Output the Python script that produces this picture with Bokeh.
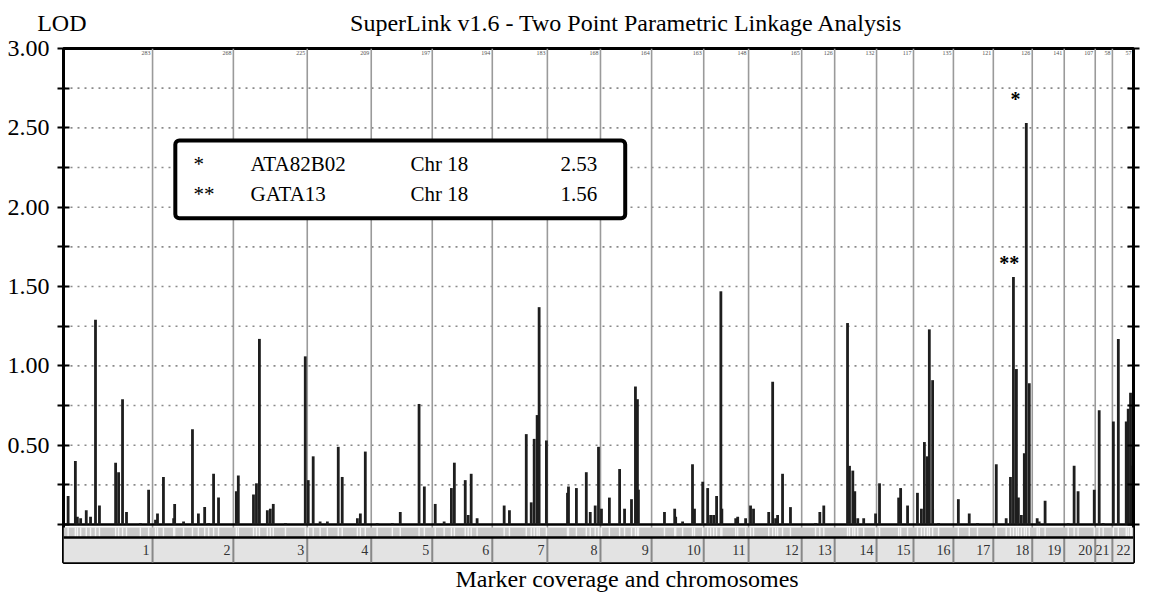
from bokeh.plotting import figure
from bokeh.layouts import column
from bokeh.models import (Range1d, FixedTicker, PrintfTickFormatter, LinearAxis,
                          Label, BoxAnnotation, Title)
from bokeh.core.properties import value
from bokeh.embed import file_html
from bokeh.resources import INLINE

SERIF = "Liberation Serif"

# ---------------- data ----------------
chrom_names = [str(i) for i in range(1, 23)]
chrom_len = [270, 245, 224, 194, 185, 182, 167, 161, 155, 158, 136,
             161, 100, 127, 112, 121, 121, 118, 97, 94, 52, 64]
top_labels = ["283", "268", "225", "209", "197", "194", "183", "168", "164", "163", "148",
              "165", "126", "132", "117", "135", "121", "126", "141", "107", "58", "57"]

chr1_pos = [14, 36, 42, 52, 69, 82, 97, 109, 158, 167, 179, 191, 233, 258]
chr1_lod = [0.18, 0.40, 0.05, 0.04, 0.09, 0.05, 1.29, 0.12, 0.39, 0.33, 0.79, 0.08, 0.01, 0.22]
chr2_pos = [9, 15, 33, 64, 67, 94, 121, 139, 158, 170, 185, 200]
chr2_lod = [0.03, 0.07, 0.30, 0.04, 0.13, 0.02, 0.60, 0.07, 0.11, 0.01, 0.32, 0.17]
chr3_pos = [9, 15, 61, 70, 79, 103, 112, 121, 158, 218]
chr3_lod = [0.21, 0.31, 0.19, 0.26, 1.17, 0.09, 0.10, 0.13, 0.01, 1.06]
chr4_pos = [3, 18, 39, 61, 94, 106, 152, 161, 176]
chr4_lod = [0.28, 0.43, 0.02, 0.02, 0.49, 0.30, 0.04, 0.07, 0.46]
chr5_pos = [18, 64, 88, 145, 161]
chr5_lod = [0.01, 0.01, 0.08, 0.76, 0.24]
chr6_pos = [9, 36, 58, 67, 100, 109, 118, 136]
chr6_lod = [0.13, 0.02, 0.23, 0.39, 0.28, 0.06, 0.32, 0.04]
chr7_pos = [36, 52, 103, 118, 127, 136, 142, 164]
chr7_lod = [0.12, 0.09, 0.57, 0.14, 0.54, 0.69, 1.37, 0.53]
chr8_pos = [61, 64, 88, 118, 130, 145, 155]
chr8_lod = [0.20, 0.24, 0.23, 0.33, 0.08, 0.12, 0.49]
chr9_pos = [3, 27, 58, 73, 94, 106, 112, 115]
chr9_lod = [0.10, 0.17, 0.35, 0.10, 0.16, 0.87, 0.79, 0.22]
chr10_pos = [39, 70, 73, 94, 124, 130, 155]
chr10_lod = [0.08, 0.10, 0.05, 0.02, 0.38, 0.10, 0.27]
chr11_pos = [12, 21, 30, 39, 52, 55, 97, 103, 127]
chr11_lod = [0.23, 0.06, 0.06, 0.18, 1.47, 0.10, 0.04, 0.05, 0.04]
chr12_pos = [6, 15, 61, 73, 82, 88, 103, 127]
chr12_lod = [0.12, 0.10, 0.08, 0.90, 0.04, 0.06, 0.32, 0.11]
chr13_pos = [42, 55, 67]
chr13_lod = [0.01, 0.08, 0.12]
chr14_pos = [39, 45, 55, 61, 70, 88, 124]
chr14_lod = [1.27, 0.37, 0.34, 0.21, 0.04, 0.04, 0.07]
chr15_pos = [9, 67, 73, 94]
chr15_lod = [0.26, 0.17, 0.23, 0.12]
chr16_pos = [12, 24, 33, 42, 48, 58, 76]
chr16_lod = [0.20, 0.10, 0.52, 0.43, 1.23, 0.91, 0.01]
chr17_pos = [15, 48, 73]
chr17_lod = [0.16, 0.07, 0.01]
chr18_pos = [9, 39, 52, 61, 70, 76, 85, 94, 100, 109]
chr18_lod = [0.38, 0.04, 0.30, 1.56, 0.98, 0.17, 0.06, 0.45, 2.53, 0.89]
chr19_pos = [15, 21, 39]
chr19_lod = [0.04, 0.02, 0.15]
chr20_pos = [12, 30, 42, 91]
chr20_lod = [0.01, 0.37, 0.21, 0.22]
chr21_pos = [12, 24]
chr21_lod = [0.72, 0.01]
chr22_pos = [3, 18, 42, 48, 55, 58]
chr22_lod = [0.65, 1.17, 0.65, 0.73, 0.83, 0.37]

legend_mark = ["*", "**"]
legend_marker = ["ATA82B02", "GATA13"]
legend_chr = ["Chr 18", "Chr 18"]
legend_lod = ["2.53", "1.56"]

all_pos = [chr1_pos, chr2_pos, chr3_pos, chr4_pos, chr5_pos, chr6_pos, chr7_pos, chr8_pos,
           chr9_pos, chr10_pos, chr11_pos, chr12_pos, chr13_pos, chr14_pos, chr15_pos,
           chr16_pos, chr17_pos, chr18_pos, chr19_pos, chr20_pos, chr21_pos, chr22_pos]
all_lod = [chr1_lod, chr2_lod, chr3_lod, chr4_lod, chr5_lod, chr6_lod, chr7_lod, chr8_lod,
           chr9_lod, chr10_lod, chr11_lod, chr12_lod, chr13_lod, chr14_lod, chr15_lod,
           chr16_lod, chr17_lod, chr18_lod, chr19_lod, chr20_lod, chr21_lod, chr22_lod]

starts, ends = [], []
acc = 0
for L in chrom_len:
    starts.append(acc)
    acc += L
    ends.append(acc)
total = acc

bx, by = [], []
for s, ps, ls in zip(starts, all_pos, all_lod):
    for p_, l_ in zip(ps, ls):
        bx.append(s + p_)
        by.append(l_)

W = 1143

# ---------------- header (titles) ----------------
hdr = figure(width=W, height=36, output_backend="svg", toolbar_location=None,
             x_range=Range1d(0, total), y_range=Range1d(0, 36),
             min_border=0, x_axis_type=None, y_axis_location="left")
hdr.grid.visible = False
hdr.outline_line_color = None
hax = hdr.yaxis[0]
hax.ticker = FixedTicker(ticks=[14], minor_ticks=[])
hax.major_label_overrides = {14: "LOD"}
hax.axis_line_color = None
hax.major_tick_line_color = None
hax.minor_tick_line_color = None
hax.major_tick_out = 0
hax.major_tick_in = 0
hax.major_label_standoff = -23
hax.major_label_text_font = SERIF
hax.major_label_text_font_size = "24px"
hax.major_label_text_color = "black"
hdr.text(x=[1707], y=[14], text=["SuperLink v1.6 - Two Point Parametric Linkage Analysis"],
         text_font=value(SERIF), text_font_size="24px", text_color="black",
         text_align="center", text_baseline="middle")

# ---------------- main figure ----------------
Y_BOT = -0.239
COV_TOP, COV_BOT = -0.019, -0.082

p = figure(width=W, height=557, output_backend="svg", toolbar_location=None,
           x_range=Range1d(0, total), y_range=Range1d(Y_BOT, 3.0),
           min_border_left=63, min_border_right=10, min_border_top=12, min_border_bottom=31,
           x_axis_type=None, y_axis_location="left")
p.grid.visible = False
p.outline_line_color = "black"
p.outline_line_width = 3

yax = p.yaxis[0]
yax.ticker = FixedTicker(ticks=[0.5, 1.0, 1.5, 2.0, 2.5, 3.0],
                         minor_ticks=[0.0, 0.25, 0.75, 1.25, 1.75, 2.25, 2.75])
yax.formatter = PrintfTickFormatter(format="%.2f")
yax.bounds = (0, 3.0)
yax.axis_line_width = 3
yax.axis_line_color = "black"
yax.major_tick_in = 6
yax.major_tick_out = 6
yax.minor_tick_in = 6
yax.minor_tick_out = 6
yax.major_tick_line_width = 2
yax.minor_tick_line_width = 2
yax.major_label_text_font = SERIF
yax.major_label_text_font_size = "24px"
yax.major_label_text_color = "black"
yax.major_label_standoff = 8

rax = LinearAxis(ticker=FixedTicker(ticks=[], minor_ticks=[0.25 * i for i in range(13)]),
                 bounds=(0, 3.0), axis_line_width=3, minor_tick_in=6, minor_tick_out=6,
                 minor_tick_line_width=2, major_tick_line_color=None)
p.add_layout(rax, "right")

p.add_layout(Title(text="Marker coverage and chromosomes", align="left", offset=392,
                   text_font=SERIF, text_font_size="24px", text_font_style="normal",
                   text_color="black", standoff=2), "below")

grid_y = [0.25 * i for i in range(1, 12)]
p.segment(x0=[0] * len(grid_y), x1=[total] * len(grid_y), y0=grid_y, y1=grid_y,
          line_color="#8a8a8a", line_width=1.6, line_dash="2 5")

p.segment(x0=ends[:-1], x1=ends[:-1], y0=[Y_BOT] * 21, y1=[3.0] * 21,
          line_color="#9a9a9a", line_width=1.6)

# coverage band (marker positions as stripes)
p.quad(left=[0], right=[total], bottom=[COV_BOT], top=[COV_TOP],
       fill_color="#c9c9c9", line_color=None)
p.segment(x0=bx, x1=bx, y0=[COV_BOT] * len(bx), y1=[COV_TOP] * len(bx),
          line_color="#f4f4f4", line_width=1.4)
# chromosome band
p.quad(left=starts, right=ends, bottom=[Y_BOT] * 22, top=[COV_BOT] * 22,
       fill_color="#e3e3e3", line_color=None)
p.segment(x0=ends[:-1], x1=ends[:-1], y0=[Y_BOT] * 21, y1=[COV_BOT] * 21,
          line_color="#888888", line_width=2)
p.segment(x0=[0, 0], x1=[total, total], y0=[0, COV_BOT], y1=[0, COV_BOT],
          line_color="black", line_width=2.5)
p.text(x=[e - 9 for e in ends], y=[(COV_BOT + Y_BOT) / 2] * 22, text=chrom_names,
       text_font=value(SERIF), text_font_size="14px", text_color="#333333",
       text_align="right", text_baseline="middle")

p.text(x=[e - 6 for e in ends], y=[2.985] * 22, text=top_labels,
       text_font=value(SERIF), text_font_size="6px", text_color="#555555",
       text_align="right", text_baseline="top")

# bars
p.segment(x0=bx, x1=bx, y0=[0] * len(bx), y1=by, line_color="#1e1e1e", line_width=2.8)

# peak asterisks
p.text(x=[starts[17] + 67, starts[17] + 48], y=[2.53 + 0.08, 1.56 + 0.02],
       text=legend_mark, text_font=value(SERIF), text_font_size="20px",
       text_font_style="bold", text_color="black", text_align="center",
       text_baseline="bottom")

# legend box
p.add_layout(BoxAnnotation(left=339, right=1703, bottom=1.93, top=2.42,
                           fill_color="white", fill_alpha=1.0, line_color="black",
                           line_alpha=1.0, line_width=4, border_radius=4))
rows_y = [2.275, 2.086]
cols = [(394, legend_mark, "left"), (567, legend_marker, "left"),
        (1052, legend_chr, "left"), (1618, legend_lod, "right")]
for cx, texts, al in cols:
    for ry, t in zip(rows_y, texts):
        p.add_layout(Label(x=cx, y=ry, text=t, text_font=SERIF, text_font_size="21px",
                           text_color="black", text_align=al, text_baseline="middle"))

layout = column(hdr, p, spacing=0)
open("out.html", "w").write(file_html(layout, INLINE))
